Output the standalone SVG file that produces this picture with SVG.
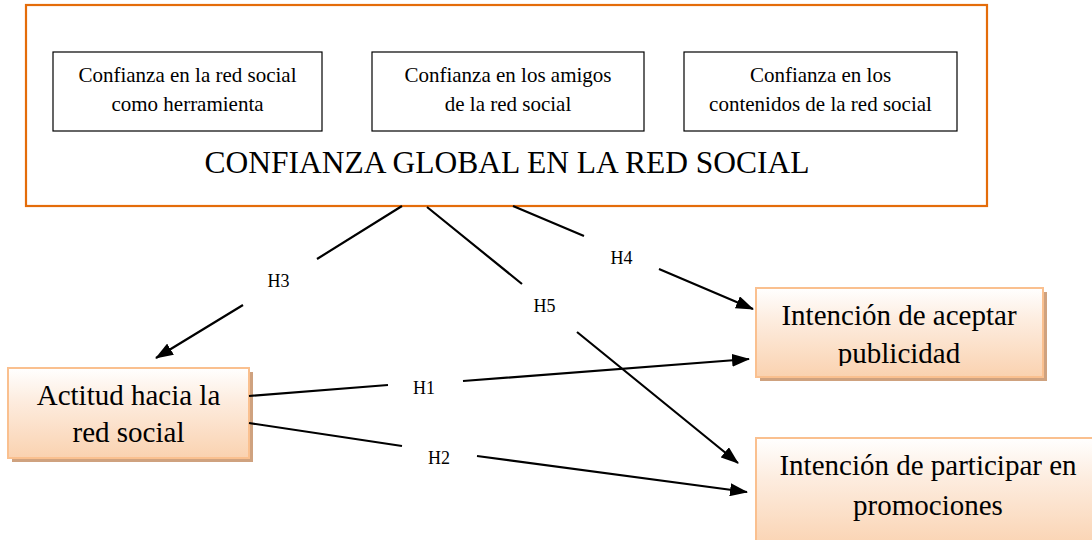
<svg xmlns="http://www.w3.org/2000/svg" width="1092" height="540" viewBox="0 0 1092 540">
  <style>
    .serif { font-family: "Liberation Serif", "Times New Roman", serif; fill: #000; }
    .inner { fill: #fff; stroke: #000; stroke-width: 1.2; }
    .small { font-size: 21px; text-anchor: middle; }
    .big { font-size: 29px; text-anchor: middle; }
    .lab { font-size: 18px; text-anchor: middle; }
    .node { fill: url(#peach); stroke: #FAC08F; stroke-width: 2; }
    .shadow { fill: #CFA27F; }
    .conn { fill: none; stroke: #000; stroke-width: 2.2; marker-end: url(#arrow); }
  </style>
  <defs>
    <linearGradient id="peach" x1="0" y1="0" x2="0" y2="1">
      <stop offset="0" stop-color="#FFFFFF"/>
      <stop offset="0.35" stop-color="#FDEDE0"/>
      <stop offset="1" stop-color="#FAD2B0"/>
    </linearGradient>
    <marker id="arrow" markerUnits="userSpaceOnUse" viewBox="0 0 18 13" markerWidth="18" markerHeight="13" refX="17" refY="6.5" orient="auto">
      <path d="M0,0 L18,6.5 L0,13 z" fill="#000"/>
    </marker>
    <clipPath id="clipAceptar">
      <rect x="740" y="280" width="320" height="86"/>
    </clipPath>
  </defs>

  <rect width="1092" height="540" fill="#fff"/>

  <g id="confianza-global">
    <rect x="26" y="5" width="961" height="201" fill="#fff" stroke="#E46C0A" stroke-width="2.2"/>
    <text class="serif" x="507" y="173" font-size="31.5" text-anchor="middle">CONFIANZA GLOBAL EN LA RED SOCIAL</text>
  </g>

  <g id="confianza-herramienta">
    <rect class="inner" x="53" y="52" width="269" height="79"/>
    <text class="serif small" x="187.5" y="82">Confianza en la red social</text>
    <text class="serif small" x="187.5" y="111">como herramienta</text>
  </g>

  <g id="confianza-amigos">
    <rect class="inner" x="372" y="52" width="272" height="79"/>
    <text class="serif small" x="508" y="82">Confianza en los amigos</text>
    <text class="serif small" x="508" y="111">de la red social</text>
  </g>

  <g id="confianza-contenidos">
    <rect class="inner" x="684" y="52" width="273" height="79"/>
    <text class="serif small" x="820.5" y="82">Confianza en los</text>
    <text class="serif small" x="820.5" y="111">contenidos de la red social</text>
  </g>

  <g id="actitud">
    <rect class="shadow" x="12" y="372" width="241" height="90"/>
    <rect class="node" x="8" y="368" width="241" height="90"/>
    <text class="serif big" x="128.5" y="405">Actitud hacia la</text>
    <text class="serif big" x="128.5" y="442">red social</text>
  </g>

  <g id="intencion-aceptar">
    <rect class="shadow" x="760" y="292" width="287" height="89"/>
    <rect class="node" x="756" y="288" width="287" height="89"/>
    <g clip-path="url(#clipAceptar)">
      <text class="serif big" x="899" y="325">Intención de aceptar</text>
      <text class="serif big" x="899" y="363">publicidad</text>
    </g>
  </g>

  <g id="intencion-participar">
    <rect class="node" x="756" y="438" width="344" height="112"/>
    <text class="serif big" x="928" y="475">Intención de participar en</text>
    <text class="serif big" x="928" y="515">promociones</text>
  </g>

  <g id="connectors">
    <path class="conn" d="M402,206 L317,259 M243,305 L156,358"/>
    <path class="conn" d="M427,207 L522,284 M577,332 L738,463"/>
    <path class="conn" d="M513,206 L584,236 M659,269 L753,309"/>
    <path class="conn" d="M249,396 L388,385 M463,381 L749,359"/>
    <path class="conn" d="M249,423 L402,446 M477,456 L747,492"/>
    <text class="serif lab" x="278.5" y="287">H3</text>
    <text class="serif lab" x="544.5" y="312">H5</text>
    <text class="serif lab" x="621.5" y="264">H4</text>
    <text class="serif lab" x="424" y="394">H1</text>
    <text class="serif lab" x="439" y="464">H2</text>
  </g>
</svg>
